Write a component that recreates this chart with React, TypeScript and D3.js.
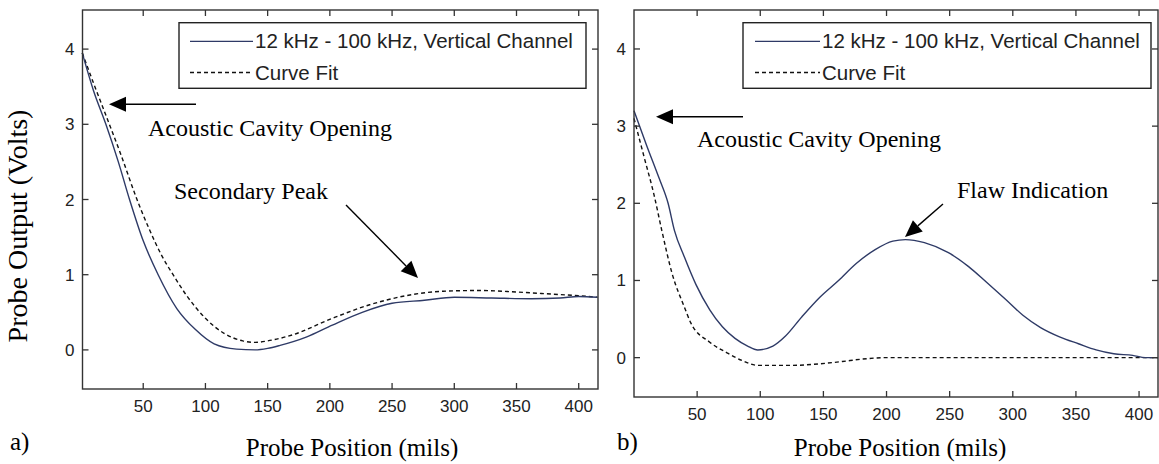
import React from "react";
import * as d3 from "d3";

// ---------- data ----------
const xTicks = [50, 100, 150, 200, 250, 300, 350, 400];
const yTicks = [0, 1, 2, 3, 4];
const legendLabels = ["12 kHz - 100 kHz, Vertical Channel", "Curve Fit"];

// panel a
const aPos = [1, 10, 20, 30, 39, 50, 62, 77, 92, 107, 125, 140, 150, 160, 181, 202, 226, 250, 276, 300, 330, 362, 385, 400, 415];
const aMeasured = [3.95, 3.45, 3.0, 2.5, 2.0, 1.45, 1.0, 0.55, 0.27, 0.08, 0.01, 0.0, 0.02, 0.06, 0.17, 0.33, 0.5, 0.62, 0.66, 0.7, 0.69, 0.68, 0.69, 0.71, 0.7];
const aFitPos = [1, 10, 20, 32, 45, 55, 65, 74, 85, 100, 115, 130, 140, 150, 170, 202, 232, 261, 291, 321, 350, 380, 400, 415];
const aFit = [3.95, 3.55, 3.12, 2.6, 2.0, 1.6, 1.25, 1.0, 0.72, 0.42, 0.22, 0.12, 0.1, 0.12, 0.2, 0.42, 0.6, 0.72, 0.78, 0.79, 0.77, 0.74, 0.72, 0.7];

// panel b
const bPos = [0, 10, 20, 27, 32, 40, 49, 60, 70, 80, 90, 98, 110, 120, 133, 147, 162, 176, 191, 205, 215, 230, 249, 265, 279, 294, 308, 322, 337, 352, 366, 380, 395, 405, 415];
const bMeasured = [3.2, 2.75, 2.32, 2.0, 1.65, 1.3, 0.95, 0.62, 0.4, 0.25, 0.15, 0.1, 0.15, 0.28, 0.53, 0.78, 1.0, 1.22, 1.4, 1.51, 1.53, 1.49, 1.36, 1.18, 0.98, 0.76, 0.55, 0.39, 0.27, 0.18, 0.1, 0.05, 0.03, 0.0, 0.0];
const bFitPos = [0, 8, 16, 22, 30, 40, 45, 60, 74, 86, 98, 125, 147, 165, 180, 200, 250, 415];
const bFit = [3.1, 2.6, 2.1, 1.65, 1.1, 0.65, 0.45, 0.2, 0.06, -0.04, -0.1, -0.1, -0.08, -0.05, -0.02, 0, 0, 0];

type Ann = { text: string; tx: number; ty: number; ax1: number; ay1: number; ax2: number; ay2: number };

const serif = "'Liberation Serif', 'Times New Roman', serif";
const sans = "'Liberation Sans', Arial, sans-serif";

function Arrow({ x1, y1, x2, y2 }: { x1: number; y1: number; x2: number; y2: number }) {
  const ang = Math.atan2(y2 - y1, x2 - x1);
  const L = 17, W = 7.5;
  const bx = x2 - L * Math.cos(ang), by = y2 - L * Math.sin(ang);
  const px = -Math.sin(ang) * W, py = Math.cos(ang) * W;
  return (
    <g>
      <line x1={x1} y1={y1} x2={bx} y2={by} stroke="#000" strokeWidth={1.4} />
      <polygon points={`${x2},${y2} ${bx + px},${by + py} ${bx - px},${by - py}`} fill="#000" />
    </g>
  );
}

function Panel(props: {
  left: number; right: number; top: number; bottom: number;
  xDomain: [number, number]; yDomain: [number, number];
  meas: [number[], number[]]; fit: [number[], number[]];
  legend: { x1: number; x2: number; y1: number; y2: number; lineX1: number; lineX2: number };
  anns: Ann[]; tag: string; tagX: number; tagY: number; titleX: number; titleY: number;
}) {
  const { left, right, top, bottom } = props;
  const x = d3.scaleLinear().domain(props.xDomain).range([left, right]);
  const y = d3.scaleLinear().domain(props.yDomain).range([bottom, top]);
  const line = d3.line<[number, number]>().x((d) => x(d[0])).y((d) => y(d[1])).curve(d3.curveMonotoneX);
  const m = props.meas[0].map((p, i) => [p, props.meas[1][i]] as [number, number]);
  const f = props.fit[0].map((p, i) => [p, props.fit[1][i]] as [number, number]);
  const tl = 6;
  const lg = props.legend;
  const rowY = [lg.y1 + (lg.y2 - lg.y1) * 0.285, lg.y1 + (lg.y2 - lg.y1) * 0.76];
  return (
    <g>
      <defs>
        <clipPath id={`clip-${props.tag}`}>
          <rect x={left} y={top} width={right - left} height={bottom - top} />
        </clipPath>
      </defs>
      <g clipPath={`url(#clip-${props.tag})`}>
        <path d={line(f) || ""} fill="none" stroke="#111" strokeWidth={1.4} strokeDasharray="4,3" />
        <path d={line(m) || ""} fill="none" stroke="#2e3a66" strokeWidth={1.4} />
      </g>
      <rect x={left} y={top} width={right - left} height={bottom - top} fill="none" stroke="#333" strokeWidth={1.4} />
      {xTicks.map((t) => (
        <g key={"x" + t}>
          <line x1={x(t)} x2={x(t)} y1={bottom} y2={bottom - tl} stroke="#333" strokeWidth={1.3} />
          <line x1={x(t)} x2={x(t)} y1={top} y2={top + tl} stroke="#333" strokeWidth={1.3} />
          <text x={x(t)} y={bottom + 23} textAnchor="middle" fontFamily={sans} fontSize={17} fill="#222">{t}</text>
        </g>
      ))}
      {yTicks.map((t) => (
        <g key={"y" + t}>
          <line x1={left} x2={left + tl} y1={y(t)} y2={y(t)} stroke="#333" strokeWidth={1.3} />
          <line x1={right} x2={right - tl} y1={y(t)} y2={y(t)} stroke="#333" strokeWidth={1.3} />
          <text x={left - 8} y={y(t) + 6} textAnchor="end" fontFamily={sans} fontSize={17} fill="#222">{t}</text>
        </g>
      ))}
      <rect x={lg.x1} y={lg.y1} width={lg.x2 - lg.x1} height={lg.y2 - lg.y1} fill="#fff" stroke="#222" strokeWidth={1.4} />
      <line x1={lg.lineX1} x2={lg.lineX2} y1={rowY[0]} y2={rowY[0]} stroke="#2e3a66" strokeWidth={1.4} />
      <line x1={lg.lineX1} x2={lg.lineX2} y1={rowY[1]} y2={rowY[1]} stroke="#111" strokeWidth={1.4} strokeDasharray="4,3" />
      {legendLabels.map((l, i) => (
        <text key={l} x={lg.lineX2 + 2} y={rowY[i] + 7} fontFamily={sans} fontSize={20.5} fill="#222">{l}</text>
      ))}
      {props.anns.map((a) => (
        <g key={a.text}>
          <text x={a.tx} y={a.ty} fontFamily={serif} fontSize={24} fill="#000">{a.text}</text>
          <Arrow x1={a.ax1} y1={a.ay1} x2={a.ax2} y2={a.ay2} />
        </g>
      ))}
      <text x={props.tagX} y={props.tagY} fontFamily={serif} fontSize={25} fill="#000">{props.tag}</text>
      <text x={props.titleX} y={props.titleY} textAnchor="middle" fontFamily={serif} fontSize={25} fill="#000">Probe Position (mils)</text>
    </g>
  );
}

export default function App() {
  return (
    <svg width={1159} height={464} style={{ position: "absolute", left: 0, top: 0, background: "#fff" }}>
      <rect x={0} y={0} width={1159} height={464} fill="#fff" />
      <text transform="translate(27,226) rotate(-90)" textAnchor="middle" fontFamily={serif} fontSize={28} fill="#000">Probe Output (Volts)</text>
      <Panel
        left={82.5} right={598} top={10} bottom={389}
        xDomain={[1.2, 415.5]} yDomain={[-0.52, 4.52]}
        meas={[aPos, aMeasured]} fit={[aFitPos, aFit]}
        legend={{ x1: 179, x2: 586, y1: 22.7, y2: 88.3, lineX1: 190, lineX2: 253 }}
        anns={[
          { text: "Acoustic Cavity Opening", tx: 148, ty: 136, ax1: 196, ay1: 104.3, ax2: 109, ay2: 104.3 },
          { text: "Secondary Peak", tx: 174, ty: 199, ax1: 346, ay1: 205, ax2: 418, ay2: 278 },
        ]}
        tag="a)" tagX={10} tagY={450} titleX={352} titleY={456}
      />
      <Panel
        left={634} right={1158} top={10} bottom={397}
        xDomain={[0, 415]} yDomain={[-0.51, 4.505]}
        meas={[bPos, bMeasured]} fit={[bFitPos, bFit]}
        legend={{ x1: 743, x2: 1151, y1: 22.7, y2: 88.3, lineX1: 755, lineX2: 820 }}
        anns={[
          { text: "Acoustic Cavity Opening", tx: 697, ty: 147, ax1: 743, ay1: 116.7, ax2: 656, ay2: 116.7 },
          { text: "Flaw Indication", tx: 957, ty: 198, ax1: 943, ay1: 204, ax2: 905, ay2: 237 },
        ]}
        tag="b)" tagX={617} tagY={450} titleX={900} titleY={456}
      />
    </svg>
  );
}
